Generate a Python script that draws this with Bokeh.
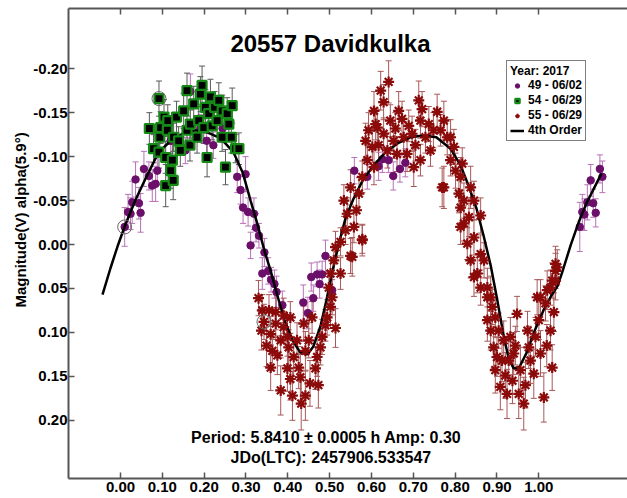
import math
from bokeh.plotting import figure
from bokeh.models import (ColumnDataSource, Whisker, TeeHead, Range1d, LinearAxis,
                          FixedTicker, PrintfTickFormatter, Label, Legend, LegendItem, Title)
from bokeh.embed import file_html
from bokeh.resources import INLINE

# ---------------- data ----------------
title_text = "20557 Davidkulka"
y_label = "Magnitude(V) alpha(5.9°)"
period_text = "Period: 5.8410 ± 0.0005 h  Amp: 0.30"
jdo_text = "JDo(LTC): 2457906.533547"
legend_title = "Year: 2017"
series_names = ["49 - 06/02", "54 - 06/29", "55 - 06/29", "4th Order"]

x_ticks = [0.0, 0.1, 0.2, 0.3, 0.4, 0.5, 0.6, 0.7, 0.8, 0.9, 1.0]
y_ticks = [-0.20, -0.15, -0.10, -0.05, 0.0, 0.05, 0.10, 0.15, 0.20]

# session 49 (purple circles)
s49_phase = [0.010, 0.018, 0.024, 0.028, 0.036, 0.044, 0.048, 0.056, 0.068, 0.076,
             0.084, 0.088, 0.120, 0.155, 0.167, 0.191, 0.206, 0.222, 0.244, 0.279,
             0.287, 0.293, 0.299, 0.305, 0.311, 0.319, 0.324, 0.331, 0.339, 0.344,
             0.353, 0.360, 0.368, 0.373, 0.387, 0.437, 0.448, 0.456, 0.461, 0.470,
             0.476, 0.482, 0.490, 0.506, 0.559, 0.590, 0.617, 0.626, 0.641, 0.652,
             0.668, 0.681, 1.098, 1.104, 1.109, 1.116, 1.124, 1.130, 1.136, 1.146,
             1.152]
s49_mag = [-0.020, -0.037, -0.035, -0.048, -0.074, -0.047, -0.036, -0.086, -0.078, -0.067,
           -0.069, -0.084, -0.118, -0.107, -0.174, -0.132, -0.118, -0.113, -0.132, -0.077,
           -0.062, -0.042, -0.080, -0.037, 0.001, -0.035, -0.019, -0.010, 0.033, 0.009,
           0.030, 0.040, 0.045, 0.054, 0.069, 0.066, 0.078, 0.037, 0.061, 0.034,
           0.045, 0.034, 0.013, 0.052, -0.084, -0.077, -0.089, -0.097, -0.096, -0.078,
           -0.086, -0.093, -0.020, -0.037, -0.034, -0.048, -0.073, -0.047, -0.036, -0.086,
           -0.077]
s49_err = [0.022, 0.020, 0.018, 0.024, 0.020, 0.018, 0.022, 0.020, 0.016, 0.018,
           0.020, 0.016, 0.018, 0.015, 0.020, 0.016, 0.018, 0.015, 0.016, 0.018,
           0.016, 0.018, 0.020, 0.016, 0.015, 0.018, 0.016, 0.014, 0.018, 0.016,
           0.015, 0.014, 0.016, 0.018, 0.016, 0.020, 0.018, 0.016, 0.015, 0.014,
           0.016, 0.015, 0.018, 0.016, 0.015, 0.014, 0.016, 0.015, 0.014, 0.016,
           0.015, 0.016, 0.028, 0.020, 0.018, 0.020, 0.018, 0.016, 0.016, 0.016,
           0.018]

# session 54 (green squares)
s54_phase = [0.069, 0.079, 0.092, 0.092, 0.094, 0.096, 0.104, 0.108, 0.108, 0.112,
             0.113, 0.120, 0.124, 0.126, 0.127, 0.134, 0.139, 0.143, 0.151, 0.159,
             0.159, 0.166, 0.167, 0.175, 0.183, 0.187, 0.191, 0.195, 0.199, 0.203,
             0.207, 0.211, 0.215, 0.219, 0.225, 0.231, 0.235, 0.243, 0.243, 0.251,
             0.255, 0.259, 0.265, 0.267, 0.275, 0.283]
s54_mag = [-0.132, -0.109, -0.166, -0.105, -0.122, -0.133, -0.145, -0.099, -0.067, -0.130,
           -0.141, -0.084, -0.096, -0.073, -0.122, -0.145, -0.118, -0.107, -0.152, -0.130,
           -0.175, -0.113, -0.137, -0.160, -0.122, -0.141, -0.171, -0.181, -0.133, -0.156,
           -0.099, -0.149, -0.168, -0.135, -0.156, -0.141, -0.164, -0.122, -0.152, -0.088,
           -0.149, -0.137, -0.122, -0.158, -0.109, -0.109]
s54_err = [0.018, 0.016, 0.020, 0.018, 0.016, 0.018, 0.020, 0.018, 0.024, 0.016,
           0.018, 0.020, 0.018, 0.022, 0.016, 0.018, 0.016, 0.018, 0.020, 0.016,
           0.020, 0.018, 0.016, 0.020, 0.018, 0.016, 0.020, 0.022, 0.018, 0.020,
           0.022, 0.018, 0.020, 0.016, 0.018, 0.018, 0.020, 0.016, 0.018, 0.020,
           0.018, 0.016, 0.018, 0.020, 0.016, 0.018]

# session 55 (dark red asterisks)
s55_phase = [0.330, 0.337, 0.339, 0.343, 0.349, 0.355, 0.359, 0.359, 0.363, 0.371,
             0.371, 0.375, 0.383, 0.383, 0.390, 0.390, 0.399, 0.399, 0.402, 0.406,
             0.406, 0.411, 0.414, 0.422, 0.426, 0.430, 0.432, 0.438, 0.442, 0.442,
             0.450, 0.453, 0.458, 0.466, 0.470, 0.473, 0.478, 0.482, 0.490, 0.494,
             0.498, 0.502, 0.502, 0.506, 0.510, 0.514, 0.514, 0.526, 0.526, 0.550,
             0.578,
             0.534, 0.538, 0.542, 0.550, 0.554, 0.558, 0.564, 0.570, 0.578, 0.578,
             0.586, 0.590, 0.593, 0.602, 0.606, 0.606, 0.610, 0.614, 0.617, 0.622,
             0.629, 0.629, 0.638, 0.641, 0.645, 0.653, 0.657, 0.661, 0.665, 0.673,
             0.677, 0.685, 0.689, 0.697, 0.701, 0.705, 0.713, 0.717, 0.717, 0.721,
             0.729, 0.737, 0.741, 0.748, 0.757, 0.765, 0.769, 0.781, 0.789, 0.801,
             0.809, 0.813, 0.821, 0.829, 0.837,
             0.773, 0.773, 0.789, 0.797, 0.813, 0.813, 0.817, 0.821, 0.833, 0.837,
             0.845, 0.845, 0.853, 0.861, 0.861, 0.869, 0.877, 0.885,
             0.845, 0.861, 0.877, 0.877, 0.885, 0.889, 0.892, 0.896, 0.896, 0.900,
             0.904, 0.908, 0.912, 0.916, 0.920, 0.924, 0.928, 0.932, 0.937, 0.940,
             0.944, 0.948, 0.952, 0.956, 0.964, 0.968, 0.973, 0.976, 0.980, 0.988,
             0.992, 0.996, 1.000, 1.004, 1.004, 1.012, 1.016, 1.019, 1.020, 1.028,
             1.028, 1.032, 1.032, 1.036, 1.040, 1.040, 1.040, 1.044]
s55_mag = [0.061, 0.098, 0.075, 0.088, 0.115, 0.075, 0.102, 0.140, 0.121, 0.090,
           0.077, 0.126, 0.109, 0.166, 0.094, 0.081, 0.105, 0.141, 0.117, 0.153,
           0.083, 0.172, 0.128, 0.109, 0.140, 0.151, 0.181, 0.090, 0.121, 0.172,
           0.109, 0.158, 0.083, 0.141, 0.128, 0.160, 0.117, 0.105, 0.092, 0.083,
           0.049, 0.071, 0.033, 0.060, 0.018, 0.003, 0.095, -0.003, 0.033, 0.013,
           -0.005,
           -0.050, -0.016, -0.035, -0.065, 0.014, -0.020, -0.039, -0.058, -0.006, -0.077,
           -0.118, -0.096, -0.130, -0.111, -0.152, -0.088, -0.137, -0.133, -0.113, -0.175,
           -0.162, -0.126, -0.107, -0.185, -0.141, -0.118, -0.132, -0.103, -0.152, -0.143,
           -0.122, -0.103, -0.135, -0.126, -0.088, -0.113, -0.164, -0.141, -0.096, -0.154,
           -0.122, -0.137, -0.107, -0.130, -0.151, -0.130, -0.065, -0.122, -0.096, -0.084,
           -0.058, -0.042, -0.024, -0.001, 0.018,
           -0.141, -0.065, -0.122, -0.111, -0.077, -0.020, -0.092, -0.050, -0.031, -0.065,
           -0.050, -0.008, 0.033, -0.033, 0.011, 0.018, 0.049, 0.060,
           0.037, 0.049, 0.060, 0.086, 0.098, 0.071, 0.117, 0.083, 0.143, 0.128,
           0.098, 0.162, 0.132, 0.109, 0.149, 0.170, 0.132, 0.105, 0.155, 0.124,
           0.115, 0.079, 0.170, 0.143, 0.181, 0.160, 0.098, 0.117, 0.132, 0.147,
           0.105, 0.060, 0.086, 0.124, 0.060, 0.174, 0.067, 0.115, 0.052, 0.098,
           0.049, 0.041, 0.140, 0.077, 0.030, 0.041, 0.022, 0.026]
s55_err = [0.020, 0.022, 0.018, 0.020, 0.024, 0.018, 0.020, 0.026, 0.022, 0.018,
           0.020, 0.022, 0.020, 0.028, 0.018, 0.020, 0.022, 0.026, 0.020, 0.024,
           0.018, 0.028, 0.022, 0.020, 0.024, 0.026, 0.030, 0.020, 0.022, 0.028,
           0.020, 0.026, 0.018, 0.024, 0.022, 0.026, 0.020, 0.020, 0.018, 0.020,
           0.018, 0.020, 0.018, 0.020, 0.016, 0.018, 0.022, 0.016, 0.018, 0.020,
           0.018,
           0.018, 0.016, 0.018, 0.020, 0.022, 0.018, 0.016, 0.018, 0.016, 0.018,
           0.020, 0.018, 0.020, 0.018, 0.022, 0.020, 0.018, 0.020, 0.018, 0.022,
           0.020, 0.018, 0.020, 0.024, 0.018, 0.020, 0.018, 0.020, 0.022, 0.020,
           0.018, 0.020, 0.018, 0.020, 0.022, 0.018, 0.022, 0.020, 0.018, 0.020,
           0.018, 0.020, 0.018, 0.020, 0.020, 0.018, 0.022, 0.020, 0.018, 0.020,
           0.022, 0.020, 0.020, 0.018, 0.020,
           0.022, 0.024, 0.020, 0.020, 0.022, 0.020, 0.018, 0.020, 0.022, 0.024,
           0.022, 0.020, 0.022, 0.020, 0.022, 0.020, 0.022, 0.024,
           0.022, 0.020, 0.022, 0.024, 0.022, 0.020, 0.024, 0.022, 0.026, 0.022,
           0.020, 0.026, 0.024, 0.022, 0.026, 0.028, 0.024, 0.022, 0.026, 0.024,
           0.022, 0.020, 0.028, 0.026, 0.030, 0.026, 0.022, 0.024, 0.026, 0.028,
           0.022, 0.020, 0.022, 0.026, 0.020, 0.028, 0.020, 0.024, 0.022, 0.022,
           0.020, 0.020, 0.026, 0.022, 0.020, 0.022, 0.020, 0.020]

# points marked with a ring
ring_phase = [0.010, 0.092, 0.343]
ring_mag = [-0.020, -0.166, 0.088]

# 4th order Fourier fit curve
fit_phase = [-0.043, -0.024, -0.007, 0.012, 0.036, 0.060, 0.091, 0.120, 0.148, 0.179,
             0.210, 0.239, 0.270, 0.292, 0.311, 0.328, 0.344, 0.359, 0.375, 0.392,
             0.411, 0.430, 0.447, 0.461, 0.478, 0.492, 0.507, 0.521, 0.538, 0.557,
             0.579, 0.605, 0.634, 0.662, 0.693, 0.724, 0.755, 0.789, 0.813, 0.832,
             0.851, 0.868, 0.885, 0.901, 0.916, 0.928, 0.940, 0.954, 0.971, 0.990,
             1.011, 1.030, 1.045, 1.057, 1.076, 1.095, 1.114, 1.133, 1.150]
fit_mag = [0.057, 0.027, 0.002, -0.023, -0.051, -0.075, -0.105, -0.118, -0.126, -0.130,
           -0.127, -0.121, -0.105, -0.082, -0.050, -0.022, 0.007, 0.030, 0.058, 0.086,
           0.109, 0.123, 0.125, 0.116, 0.093, 0.064, 0.030, 0.001, -0.030, -0.052,
           -0.073, -0.090, -0.105, -0.115, -0.122, -0.124, -0.122, -0.109, -0.090, -0.067,
           -0.041, -0.010, 0.024, 0.064, 0.104, 0.130, 0.141, 0.139, 0.123, 0.098,
           0.075, 0.058, 0.047, 0.030, 0.001, -0.025, -0.047, -0.065, -0.081]

FONT = "Liberation Sans"


def make_source(ph, mg, er):
    n = min(len(ph), len(mg), len(er))
    ph, mg, er = ph[:n], mg[:n], er[:n]
    return ColumnDataSource(dict(
        x=ph, y=mg,
        lo=[m - e for m, e in zip(mg, er)],
        hi=[m + e for m, e in zip(mg, er)]))


p = figure(width=627, height=498, output_backend="svg", toolbar_location=None,
           x_range=Range1d(-0.1243, 1.212), y_range=Range1d(0.2662, -0.2685),
           min_border_left=68, min_border_right=0, min_border_top=8, min_border_bottom=20)
p.outline_line_color = None
p.xgrid.visible = False
p.ygrid.visible = False
p.background_fill_color = "white"
p.border_fill_color = "white"

bottom_axis = p.below[0]
left_axis = p.left[0]
top_axis = LinearAxis(ticker=FixedTicker(ticks=x_ticks),
                      major_label_overrides={t: "" for t in x_ticks})
p.add_layout(top_axis, "above")

for ax in [bottom_axis, left_axis, top_axis]:
    ax.axis_line_color = "#555555"
    ax.axis_line_width = 2
    ax.major_tick_line_color = "#555555"
    ax.major_tick_line_width = 1.5
    ax.major_tick_in = 6
    ax.major_tick_out = 0
    ax.minor_tick_line_color = None
    ax.major_label_text_font = FONT
    ax.major_label_text_font_style = "bold"
    ax.major_label_text_font_size = "15px"
    ax.major_label_text_color = "black"

bottom_axis.ticker = FixedTicker(ticks=x_ticks)
bottom_axis.formatter = PrintfTickFormatter(format="%.2f")
left_axis.ticker = FixedTicker(ticks=y_ticks)
left_axis.formatter = PrintfTickFormatter(format="%.2f")
bottom_axis.major_label_standoff = 3
left_axis.major_label_standoff = 1
top_axis.major_label_standoff = 0
top_axis.major_label_text_font_size = "1px"

# vertical axis title, placed left of the tick labels (starts 171px above the frame bottom)
p.add_layout(Title(text=y_label, align="left", offset=171, text_font=FONT,
                   text_font_style="bold", text_font_size="15px", text_color="black",
                   standoff=3), "left")

src49 = make_source(s49_phase, s49_mag, s49_err)
src54 = make_source(s54_phase, s54_mag, s54_err)
src55 = make_source(s55_phase, s55_mag, s55_err)


def add_err(src, color):
    w = Whisker(source=src, base="x", lower="lo", upper="hi", dimension="height",
                line_color=color, line_width=1,
                upper_head=TeeHead(size=6, line_color=color, line_width=1),
                lower_head=TeeHead(size=6, line_color=color, line_width=1))
    p.add_layout(w)


add_err(src49, "#B872B8")
r49 = p.scatter("x", "y", source=src49, marker="circle", size=7.5,
                fill_color="#6B0F6B", line_color="#6B0F6B")

r_fit = p.line(fit_phase, fit_mag, line_color="black", line_width=2.5)

add_err(src54, "#5A5A5A")
r54 = p.scatter("x", "y", source=src54, marker="square", size=9,
                fill_color="black", line_color="#168A16", line_width=2.2)

add_err(src55, "#A85858")
r55 = p.scatter("x", "y", source=src55, marker="asterisk", size=11,
                line_color="#8B0A0A", line_width=2.2)

p.scatter(ring_phase, ring_mag, marker="circle", size=14, fill_color=None,
          line_color="#666666", line_width=1)

# texts
p.add_layout(Label(x=0.502, y=-0.229, text=title_text, text_font=FONT,
                   text_font_style="bold", text_font_size="24px", text_color="black",
                   text_align="center", text_baseline="middle"))
p.add_layout(Label(x=0.497, y=0.2196, text=period_text, text_font=FONT,
                   text_font_style="bold", text_font_size="16px", text_color="black",
                   text_align="center", text_baseline="middle"))
p.add_layout(Label(x=0.503, y=0.2423, text=jdo_text, text_font=FONT,
                   text_font_style="bold", text_font_size="16px", text_color="black",
                   text_align="center", text_baseline="middle"))

legend = Legend(items=[LegendItem(label=series_names[0], renderers=[r49]),
                       LegendItem(label=series_names[1], renderers=[r54]),
                       LegendItem(label=series_names[2], renderers=[r55]),
                       LegendItem(label=series_names[3], renderers=[r_fit])],
                location=(438, 337), title=legend_title)
legend.title_text_font = FONT
legend.title_text_font_style = "bold"
legend.title_text_font_size = "12px"
legend.title_text_color = "black"
legend.title_standoff = 0
legend.label_text_font = FONT
legend.label_text_font_style = "bold"
legend.label_text_font_size = "12px"
legend.label_text_color = "black"
legend.label_height = 12
legend.glyph_height = 11
legend.glyph_width = 14
legend.label_standoff = 4
legend.spacing = 1
legend.padding = 3
legend.margin = 0
legend.border_line_color = "black"
legend.border_line_width = 1.5
legend.background_fill_color = "white"
legend.background_fill_alpha = 1.0
p.add_layout(legend, "center")

open("out.html", "w").write(file_html(p, INLINE))
